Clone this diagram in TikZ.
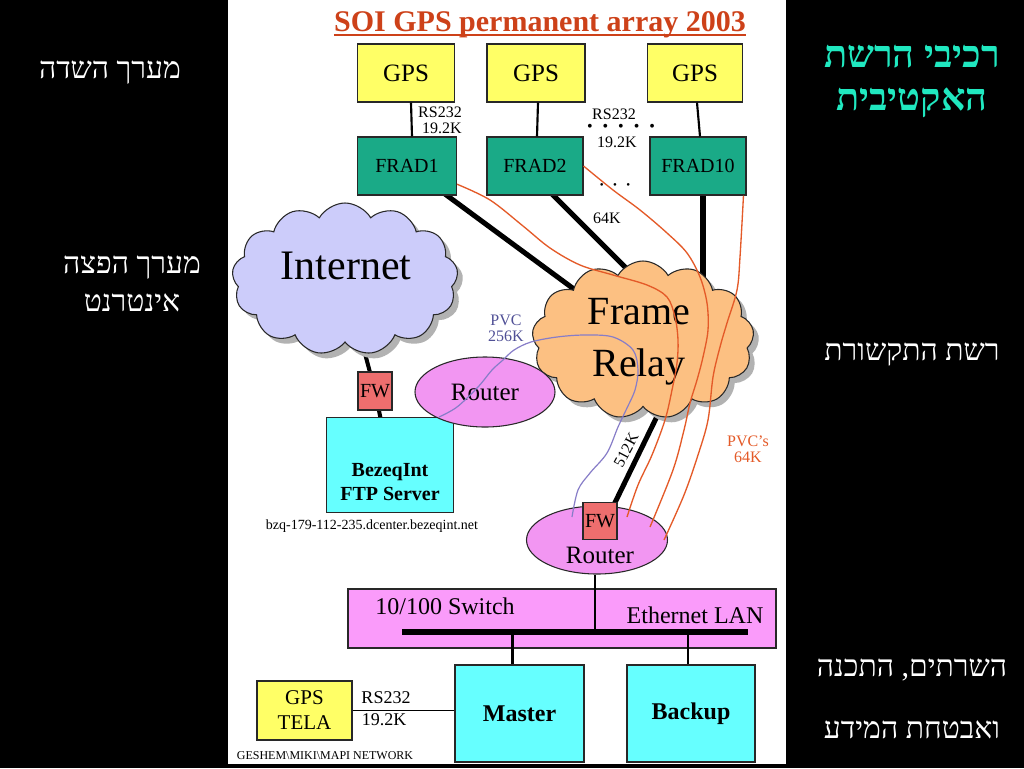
\documentclass[tikz,border=0pt]{standalone}
\usepackage{fontspec}
\setmainfont{Liberation Serif}
\newfontfamily\hebfont[Script=Hebrew]{Liberation Serif}
\TeXXeTstate=1
\usetikzlibrary{shapes.geometric,shapes.symbols,shadows,calc}
\pgfdeclarelayer{back}\pgfdeclarelayer{bg}\pgfdeclarelayer{fg}
\pgfsetlayers{back,bg,main,fg}
\newcommand\pxf[2]{\fontsize{\fpeval{#1*0.75}pt}{\fpeval{#2*0.75}pt}\selectfont}
\definecolor{gpsY}{RGB}{255,255,102}
\definecolor{fradG}{RGB}{26,170,135}
\definecolor{inetC}{RGB}{204,204,250}
\definecolor{frC}{RGB}{252,192,130}
\definecolor{routC}{RGB}{242,150,242}
\definecolor{fwC}{RGB}{238,110,110}
\definecolor{srvC}{RGB}{102,255,255}
\definecolor{swC}{RGB}{250,155,250}
\definecolor{titleC}{RGB}{205,65,25}
\definecolor{hebT}{RGB}{32,232,192}
\definecolor{pvcO}{RGB}{228,90,40}
\definecolor{pvcB}{RGB}{80,80,150}
\definecolor{pvcL}{RGB}{135,125,200}
\definecolor{edgeC}{RGB}{40,40,40}
\tikzset{
  sz/.style 2 args={minimum width={#1*0.75pt},minimum height={#2*0.75pt}},
  box/.style={draw=edgeC,line width=0.8pt,rectangle,inner sep=0pt,align=center},
  gpsbox/.style={box,fill=gpsY,font=\pxf{25}{28}},
  fradbox/.style={box,fill=fradG,font=\pxf{20}{24}},
  fwbox/.style={box,fill=fwC,font=\pxf{20}{24}},
  srvbox/.style={box,fill=srvC,font=\bfseries\pxf{24}{28}},
  routerell/.style={ellipse,draw=edgeC,line width=0.8pt,fill=routC,inner sep=0pt,font=\pxf{25}{28}},
  cloudshape/.style={cloud,cloud puffs=13,cloud puff arc=120,cloud ignores aspect,draw=edgeC,line width=0.8pt,inner sep=0pt,
     drop shadow={shadow xshift=4pt,shadow yshift=-4pt,fill=gray!60,opacity=1}},
  small/.style={font=\pxf{16}{16},inner sep=0pt,align=center},
  thickln/.style={line width=3.8pt,black},
  midln/.style={line width=3pt,black},
  thinln/.style={line width=1.6pt,black},
  pvcline/.style={pvcO,line width=1pt},
  purpline/.style={pvcL,line width=0.9pt},
  hebw/.style={white,font=\hebfont\pxf{30}{32},inner sep=0pt},
  hebt/.style={hebT,font=\hebfont\bfseries\pxf{38}{40},inner sep=0pt},
}
\begin{document}
\begin{tikzpicture}[x=0.75pt,y=-0.75pt]
\useasboundingbox (0,0) rectangle (1024,768);
\begin{pgfonlayer}{back}
\fill[black] (0,0) rectangle (1024,768);
\fill[white] (228,0) rectangle (786,764);
\end{pgfonlayer}

% title
\node[anchor=base,inner sep=0pt,titleC,font=\bfseries\pxf{30}{32}] (title) at (540,31) {SOI GPS permanent array 2003};
\draw[titleC,line width=1.5pt] ($(title.base west)+(0,4)$) -- ($(title.base east)+(0,4)$);

% GPS and FRAD
\node[gpsbox,sz={97}{58}] (gps1) at (406,73) {GPS};
\node[gpsbox,sz={98}{58}] (gps2) at (536,73) {GPS};
\node[gpsbox,sz={95}{58}] (gps3) at (695,73) {GPS};
\node[fradbox,sz={99}{58}] (frad1) at (407,166) {FRAD1};
\node[fradbox,sz={96}{58}] (frad2) at (535,166) {FRAD2};
\node[fradbox,sz={96}{58}] (frad10) at (698,166) {FRAD10};

\draw[thinln] ($(gps1.south)+(5,0)$) -- ($(frad1.north)+(5,0)$);
\draw[thinln] ($(gps2.south)+(2,0)$) -- ($(frad2.north)+(2,0)$);
\draw[thinln] ($(gps3.south)+(2,0)$) -- ($(frad10.north)+(2,0)$);

\node[small] (rsA) at (440,112) {RS232};
\node[small] (rsB) at (442,128) {19.2K};
\node[small] (rsC) at (614,114) {RS232};
\node[font=\pxf{16}{16},inner sep=0pt] (dots1) at (621,128) {•\hspace{7.5pt}•\hspace{7.5pt}•\hspace{7.5pt}•\hspace{7.5pt}•};
\node[small] (rsD) at (617,142) {19.2K};
\node[font=\pxf{11}{11},inner sep=0pt] (dots2) at (615,186) {•\hspace{7pt}•\hspace{7pt}•};
\node[small] (k64) at (607,218) {64K};

% clouds
\node[cloudshape,fill=inetC,sz={226}{152}] (inet) at (345,279) {};
\node[font=\pxf{42}{44},inner sep=0pt] (inettxt) at (346,266) {Internet};
\node[cloudshape,fill=frC,sz={222}{158}] (fr) at (643,340) {};
\node[font=\pxf{40}{52},inner sep=0pt,align=center] (frtxt) at (639,342) {Frame\\Relay};

% FW, FTP server, router 1
\node[fwbox,sz={34}{38}] (fw1) at (375,391) {FW};
\node[box,fill=srvC,sz={127}{95}] (ftp) at (390,465) {};
\node[font=\bfseries\pxf{20}{24},inner sep=0pt,align=center] (ftptxt) at (390,482) {BezeqInt\\FTP Server};
\node[font=\pxf{14}{14},inner sep=0pt] (bzq) at (372,526) {bzq-179-112-235.dcenter.bezeqint.net};
\node[routerell,sz={140}{70}] (router1) at (485,392) {Router};
\node[small,pvcB] (pvc256) at (506,328) {PVC\\256K};

% router 2
\node[routerell,sz={141}{68}] (router2) at (597,540) {};
\node[font=\pxf{25}{28},inner sep=0pt] (r2txt) at (600,555) {Router};
\node[fwbox,sz={34}{37}] (fw2) at (600,521) {FW};
\node[small,rotate=62] (k512) at (626,450) {512K};
\node[small,pvcO] (pvc64) at (748,449) {PVC's\\64K};

% switch
\node[box,fill=swC,sz={428}{59}] (switch) at (562,618.5) {};
\node[font=\pxf{24}{26},inner sep=0pt] (swtxt) at (445,606) {10/100 Switch};
\node[font=\pxf{24}{26},inner sep=0pt] (lantxt) at (695,615) {Ethernet LAN};
\coordinate (busL) at (402,632);
\coordinate (busR) at (748,632);
\draw[line width=4.5pt] (busL) -- (busR);
\node[srvbox,sz={129}{97}] (master) at (519.5,713.5) {Master};
\node[srvbox,sz={128}{97}] (backup) at (691,713.5) {Backup};
\node[gpsbox,font=\pxf{21}{25},sz={95}{59}] (tela) at (304.5,710.5) {GPS\\TELA};
\node[font=\pxf{18}{18},inner sep=0pt] (rsE) at (386,698) {RS232};
\node[font=\pxf{18}{18},inner sep=0pt] (rsF) at (384,720) {19.2K};
\node[font=\pxf{12}{12},inner sep=0pt] (gesh) at (325,756) {GESHEM\textbackslash MIKI\textbackslash MAPI NETWORK};

\coordinate (mTop) at ($(master.north)+(-7,0)$);
\coordinate (bTop) at ($(backup.north)+(-3,0)$);
\coordinate (rBot) at ($(router2.south)+(-2,0)$);
\draw[thinln] (rBot) -- (rBot |- busL);
\draw[thinln] (mTop) -- (mTop |- busL);
\draw[thinln] (bTop) -- (bTop |- busL);
\draw[line width=0.8pt] (tela.east) -- (tela.east -| master.west);

% background connectors
\begin{pgfonlayer}{bg}
\draw[thickln] (frad1.center) -- (fr.center);
\draw[thickln] ($(frad2.center)+(-11,0)$) -- ($(fr.center)+(-3,-58)$);
\draw[thickln] (frad10.center) ++(5,0) -- ++(0,150);
\draw[midln] (inet.center) -- (fw1.center);
\draw[midln] (fw1.center) -- (ftp.center);
\draw[thickln] ($(fw2.center)+(6,0)$) -- ($(fr.center)+(22,60)$);
\end{pgfonlayer}

% PVC lines
\coordinate (eA) at ($(router2.center)+(30,-23)$);
\coordinate (eB) at ($(router2.center)+(53,-13)$);
\coordinate (eC) at ($(router2.center)+(67,0)$);
\coordinate (eP) at ($(router2.center)+(-25,-23)$);
\coordinate (sP) at ($(router1.center)+(-46,25)$);
\begin{pgfonlayer}{fg}
\draw[pvcline] plot[smooth,tension=0.55] coordinates {(frad1.-20) (490,200) (523,226) (550,248) (580,265) (613,275) (647,285) (667,297) (675,317) (678,340) (677,363) (672,390) (665,420) (652,455) (638,485) (eA)};
\draw[pvcline] plot[smooth,tension=0.55] coordinates {(frad2.east) (613,190) (640,210) (667,233) (687,253) (700,277) (707,303) (708,330) (703,357) (697,380) (690,403) (684,430) (673,470) (eB)};
\draw[pvcline] plot[smooth,tension=0.55] coordinates {(frad10.-33) (740,257) (737,290) (727,323) (720,347) (713,377) (708,420) (698,455) (684,495) (eC)};
\draw[purpline] plot[smooth,tension=0.55] coordinates {(sP) (457,407) (478,387) (492,370) (503,360) (514,350) (531,342) (557,337) (585,335) (613,337) (633,350) (638,370) (635,390) (627,408) (618,427) (607,453) (590,473) (578,490) (eP)};
\end{pgfonlayer}

% Hebrew side texts
\node[hebw] (l1) at (110,73) {\beginR מערך השדה\endR};
\node[hebw] (l2) at (132,268) {\beginR מערך הפצה\endR};
\node[hebw] (l3) at (132,303) {\beginR אינטרנט\endR};
\node[hebt] (r1) at (912,57) {\beginR רכיבי הרשת\endR};
\node[hebt] (r2) at (912,103) {\beginR האקטיבית\endR};
\node[hebw] (r3) at (912,355) {\beginR רשת התקשורת\endR};
\node[hebw] (r4) at (912,670) {\beginR השרתים, התכנה\endR};
\node[hebw] (r5) at (912,730) {\beginR ואבטחת המידע\endR};
\end{tikzpicture}
\end{document}
